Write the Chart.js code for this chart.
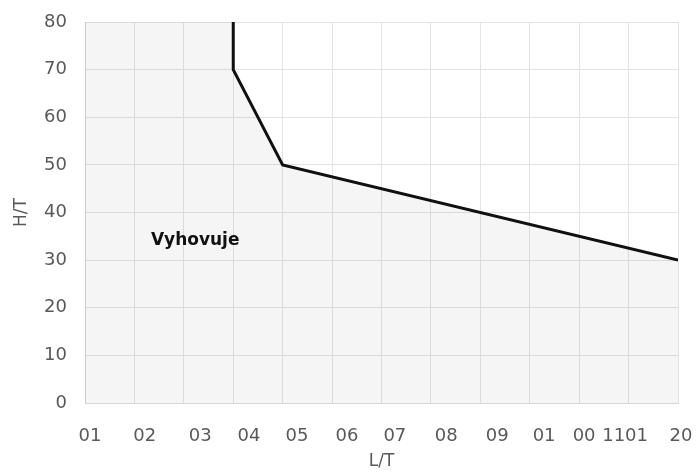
<!DOCTYPE html>
<html>
<head>
<meta charset="utf-8">
<script src="https://cdn.jsdelivr.net/npm/chart.js@4/dist/chart.umd.min.js"></script>
<style>
    html, body { margin: 0; padding: 0; background: #fff; }
    #wrap { width: 699px; height: 472px; }
</style>
</head>
<body>
<div id="wrap"><canvas id="limitChart"></canvas></div>
<script>
// limit curve L/T -> H/T
const limitL = [30, 30, 40, 120]
const limitH = [80, 70, 50, 30]

// area that satisfies the limit
const areaL = [0, 30, 30, 40, 120]
const areaH = [80, 80, 70, 50, 30]

// bottom axis labels and where they sit on the L/T scale
const xLabels = ['01', '02', '03', '04', '05', '06', '07', '08', '09', '01', '00', '1101', '20']
const xLabelAt = [1.0, 12.1, 23.3, 33.2, 42.9, 53.0, 62.7, 73.1, 83.4, 92.9, 101.0, 109.3, 120.6]

const zoneText = 'Vyhovuje'
const zoneL = 22.3
const zoneH = 34.2

const fontFamily = '"DejaVu Sans", sans-serif'
const textGray = '#595959'
const gridGray = '#e3e3e3'

function points(xs, ys) {
    return xs.map(function (x, i) { return { x: x, y: ys[i] } })
}

// writes the zone name inside the plot
const zoneLabel = {
    id: 'zoneLabel',
    afterDatasetsDraw(chart) {
        const ctx = chart.ctx
        const x = chart.scales.x.getPixelForValue(zoneL)
        const y = chart.scales.y.getPixelForValue(zoneH)
        ctx.save()
        ctx.font = 'bold 17px ' + fontFamily
        ctx.fillStyle = '#111'
        ctx.textAlign = 'center'
        ctx.textBaseline = 'middle'
        ctx.fillText(zoneText, x, y)
        ctx.restore()
    }
}

const limitData = {
    datasets: [{
        label: 'area',
        data: points(areaL, areaH),
        borderWidth: 0,
        pointRadius: 0,
        backgroundColor: 'rgba(0, 0, 0, 0.04)',
        fill: 'origin',
        xAxisID: 'x'
    }, {
        label: 'limit',
        data: points(limitL, limitH),
        borderColor: '#111',
        borderWidth: 3,
        pointRadius: 0,
        fill: false,
        xAxisID: 'x'
    }]
}

const limitConfig = {
    type: 'line',
    data: limitData,
    options: {
        responsive: true,
        maintainAspectRatio: false,
        animation: false,
        layout: {
            padding: { left: 11, right: 21, top: 22, bottom: 0 }
        },
        plugins: {
            legend: { display: false },
            tooltip: { enabled: false }
        },
        scales: {
            x: {
                type: 'linear',
                position: 'bottom',
                min: 0,
                max: 120,
                ticks: { display: false, stepSize: 10 },
                grid: { color: gridGray, drawTicks: false },
                border: { color: '#d6d6d6' },
                afterFit: function (scale) {
                    scale.height = 0
                    scale.paddingLeft = 0
                    scale.paddingRight = 0
                }
            },
            xl: {
                type: 'linear',
                position: 'bottom',
                min: 0,
                max: 120,
                grid: { display: false, drawTicks: false },
                border: { display: false },
                afterBuildTicks: function (scale) {
                    scale.ticks = xLabelAt.map(function (v) { return { value: v } })
                },
                ticks: {
                    autoSkip: false,
                    maxRotation: 0,
                    padding: 23,
                    color: textGray,
                    font: { family: fontFamily, size: 18 },
                    callback: function (value, index) { return xLabels[index] }
                },
                title: {
                    display: true,
                    text: 'L/T',
                    color: textGray,
                    font: { family: fontFamily, size: 17 },
                    padding: { top: 0, bottom: 0 }
                },
                afterFit: function (scale) {
                    scale.height = 69
                    scale.paddingLeft = 0
                    scale.paddingRight = 0
                }
            },
            y: {
                min: 0,
                max: 80,
                ticks: {
                    stepSize: 10,
                    padding: 18,
                    color: textGray,
                    font: { family: fontFamily, size: 18 }
                },
                grid: { color: gridGray, drawTicks: false },
                border: { color: '#d6d6d6' },
                title: {
                    display: true,
                    text: 'H/T',
                    color: textGray,
                    font: { family: fontFamily, size: 17 },
                    padding: { top: 0, bottom: 0 }
                },
                afterFit: function (scale) {
                    scale.width = 74
                    scale.paddingTop = 0
                    scale.paddingBottom = 0
                }
            }
        }
    },
    plugins: [zoneLabel]
}

const limitChart = new Chart(
    document.getElementById('limitChart'),
    limitConfig
)
</script>
</body>
</html>
